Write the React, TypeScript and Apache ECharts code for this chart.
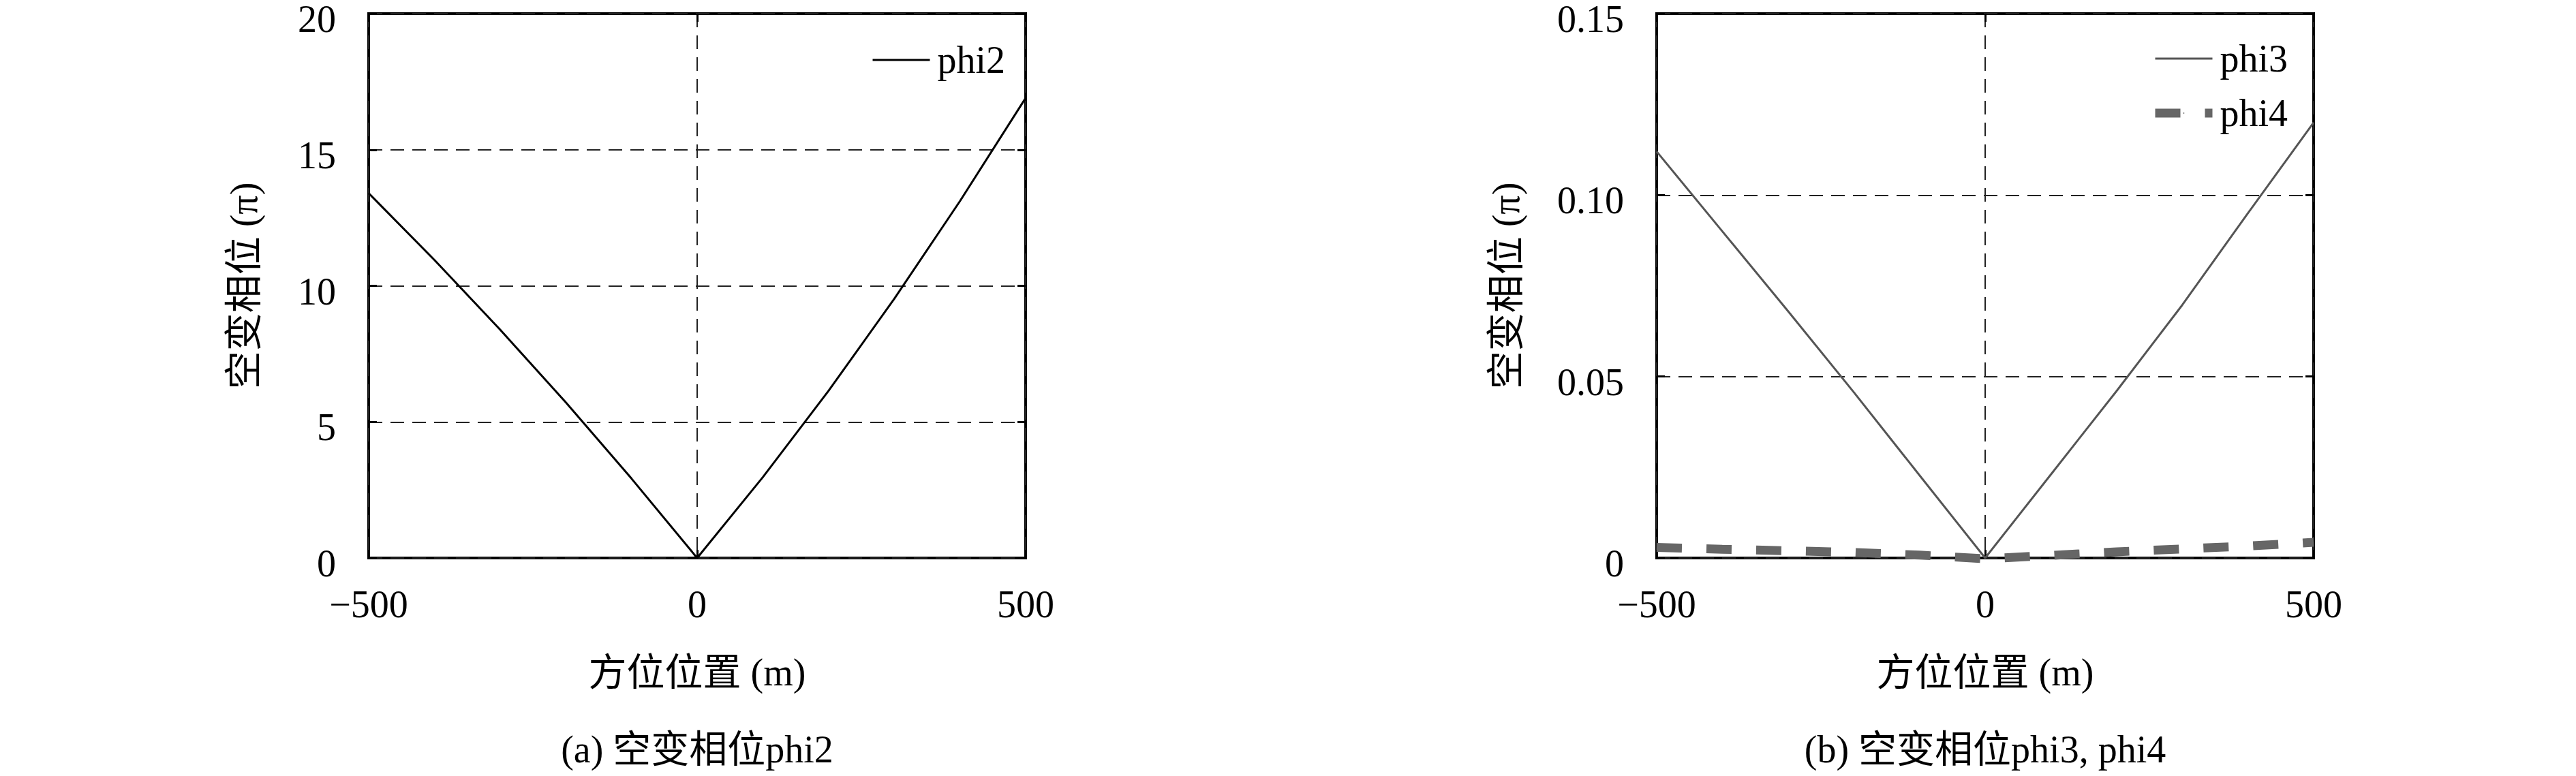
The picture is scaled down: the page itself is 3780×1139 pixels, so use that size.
import React, { useEffect, useRef } from "react";
import * as echarts from "echarts";

// ---- data ----
const xPositions = [-500, -400, -300, -200, -100, 0, 100, 200, 300, 400, 500];
const phi2 = [13.4, 10.95, 8.39, 5.72, 2.92, 0, 2.97, 6.14, 9.52, 13.11, 16.9];
const phi3 = [0.112, 0.09, 0.068, 0.0457, 0.0228, 0, 0.023, 0.046, 0.0697, 0.095, 0.12];
const phi4 = [0.0029, 0.0024, 0.002, 0.0015, 0.0008, -0.0002, 0.0007, 0.0017, 0.0025, 0.0033, 0.0043];

const xRange = { min: -500, max: 500, interval: 500 };
const yRangeA = { min: 0, max: 20, interval: 5 };
const yRangeB = { min: 0, max: 0.15, interval: 0.05 };

const xAxisTitle = "方位位置 (m)";
const yAxisTitle = "空变相位 (π)";
const captions = ["(a) 空变相位phi2", "(b) 空变相位phi3, phi4"];
const seriesNames = ["phi2", "phi3", "phi4"];

const FONT = '"Liberation Serif", "Noto Sans CJK SC", serif';
const FS = 56;

const grids = [
  { left: 541, top: 16, width: 964, height: 803 },
  { left: 2431, top: 16, width: 964, height: 803 },
];

function pairs(ys: number[]) {
  return xPositions.map((x, i) => [x, ys[i]]);
}

function fmtX(v: number) {
  return v < 0 ? "\u2212" + Math.abs(v) : String(v);
}

export default function App() {
  const ref = useRef<HTMLDivElement>(null);

  useEffect(() => {
    if (!ref.current) return;
    const chart = echarts.init(ref.current, undefined, { renderer: "svg" });

    const tick = { show: true, inside: true, length: 12, lineStyle: { color: "#000", width: 3 } };
    const split = { show: true, lineStyle: { color: "#222", width: 2, type: [20, 12] as any } };
    const label = { fontSize: FS, fontFamily: FONT, color: "#000" };
    const noLine = { show: false, onZero: false };

    const xAxes: any[] = [];
    const yAxes: any[] = [];
    const yRanges = [yRangeA, yRangeB];
    const yNameGaps = [155, 193];
    grids.forEach((g, gi) => {
      xAxes.push({
        gridIndex: gi, type: "value", position: "bottom", ...xRange,
        axisLine: noLine, axisTick: tick,
        axisLabel: { ...label, margin: 40, formatter: fmtX },
        splitLine: split,
        name: xAxisTitle, nameLocation: "middle", nameGap: 140,
        nameTextStyle: { fontSize: FS, fontFamily: FONT, color: "#000" },
      });
      xAxes.push({
        gridIndex: gi, type: "value", position: "top", ...xRange,
        axisLine: noLine, axisTick: tick, axisLabel: { show: false },
        splitLine: { show: false },
      });
      const yr = yRanges[gi];
      yAxes.push({
        gridIndex: gi, type: "value", position: "left", ...yr,
        axisLine: noLine, axisTick: tick,
        axisLabel: {
          ...label, margin: 48, verticalAlign: "top", lineHeight: 16,
          formatter: (v: number) => (gi === 0 ? String(v) : v === 0 ? "0" : v.toFixed(2)),
        },
        splitLine: split,
        name: yAxisTitle, nameLocation: "middle", nameRotate: 90, nameGap: yNameGaps[gi],
        nameTextStyle: { fontSize: FS, fontFamily: FONT, color: "#000" },
      });
      yAxes.push({
        gridIndex: gi, type: "value", position: "right", ...yr,
        axisLine: noLine, axisTick: tick, axisLabel: { show: false },
        splitLine: { show: false },
      });
    });

    const legendCommon = {
      orient: "vertical",
      padding: 0,
      itemWidth: 84,
      itemHeight: 2,
      itemGap: 24,
      lineStyle: { width: "inherit", type: "inherit" },
      textStyle: { fontSize: FS, fontFamily: FONT, color: "#000", lineHeight: 56, padding: [0, 0, 0, 6] },
    };

    const option: any = {
      animation: false,
      backgroundColor: "#fff",
      grid: grids.map((g) => ({ ...g, show: true, borderColor: "#000", borderWidth: 4, backgroundColor: "transparent" })),
      xAxis: xAxes,
      yAxis: yAxes,
      legend: [
        { ...legendCommon, data: [seriesNames[0]], left: 1279, top: 60 },
        { ...legendCommon, data: [seriesNames[1], seriesNames[2]], left: 3156, top: 58 },
      ],
      series: [
        {
          name: seriesNames[0], type: "line", xAxisIndex: 0, yAxisIndex: 0,
          data: pairs(phi2), symbol: "none", color: "#000",
          lineStyle: { color: "#000", width: 3 },
        },
        {
          name: seriesNames[1], type: "line", xAxisIndex: 2, yAxisIndex: 2,
          data: pairs(phi3), symbol: "none", color: "#555",
          lineStyle: { color: "#555", width: 3 },
        },
        {
          name: seriesNames[2], type: "line", xAxisIndex: 2, yAxisIndex: 2,
          data: pairs(phi4), symbol: "none", color: "#666", clip: false,
          lineStyle: { color: "#666", width: 13, type: [37, 36] },
        },
      ],
      graphic: captions.map((c, i) => ({
        type: "text",
        x: grids[i].left + grids[i].width / 2,
        y: 1100,
        style: {
          text: c, fontSize: FS, fontFamily: FONT, fill: "#000",
          align: "center", verticalAlign: "middle",
          textAlign: "center", textVerticalAlign: "middle",
        },
      })),
    };

    chart.setOption(option);
    return () => chart.dispose();
  }, []);

  return (
    <div
      ref={ref}
      style={{ position: "absolute", left: 0, top: 0, width: 3780, height: 1139, background: "#fff" }}
    />
  );
}
